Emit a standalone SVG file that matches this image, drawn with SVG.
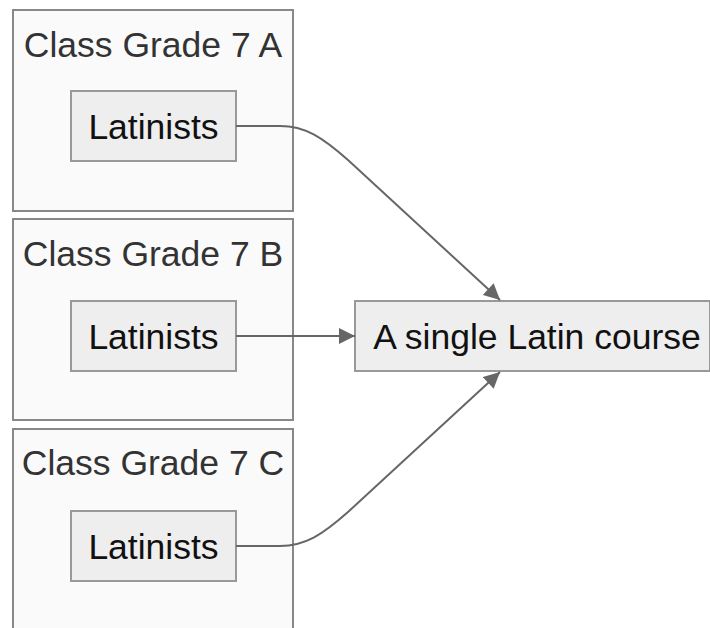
<svg xmlns="http://www.w3.org/2000/svg" width="710" height="628" viewBox="0 0 710 628">
  <style>
    .cluster rect { fill: #fafafa; stroke: #888888; stroke-width: 2; }
    .cluster text { font-family: "Liberation Sans", Arial, sans-serif; font-size: 35.5px; fill: #333333; text-anchor: middle; }
    .node rect { fill: #eeeeee; stroke: #999999; stroke-width: 2; }
    .node text { font-family: "Liberation Sans", Arial, sans-serif; font-size: 35.5px; fill: #111111; text-anchor: middle; }
    .edge { fill: none; stroke: #666666; stroke-width: 2; marker-end: url(#arrow); }
  </style>
  <defs>
    <marker id="arrow" viewBox="0 0 10 10" refX="10" refY="5" markerUnits="userSpaceOnUse" markerWidth="17" markerHeight="16" orient="auto">
      <path d="M0,0 L10,5 L0,10 Z" fill="#666666"/>
    </marker>
  </defs>
  <rect width="710" height="628" fill="#ffffff"/>

  <g id="classA" class="cluster">
    <rect x="13" y="10" width="280" height="201"/>
    <text x="153" y="57">Class Grade 7 A</text>
  </g>
  <g id="classB" class="cluster">
    <rect x="13" y="219" width="280" height="201"/>
    <text x="153" y="266">Class Grade 7 B</text>
  </g>
  <g id="classC" class="cluster">
    <rect x="13" y="429" width="280" height="210"/>
    <text x="153" y="475">Class Grade 7 C</text>
  </g>

  <g id="latinistsA" class="node">
    <rect x="71" y="91" width="165" height="70"/>
    <text x="153.5" y="138.5">Latinists</text>
  </g>
  <g id="latinistsB" class="node">
    <rect x="71" y="301" width="165" height="70"/>
    <text x="153.5" y="348.5">Latinists</text>
  </g>
  <g id="latinistsC" class="node">
    <rect x="71" y="511" width="165" height="70"/>
    <text x="153.5" y="558.5">Latinists</text>
  </g>
  <g id="latinCourse" class="node">
    <rect x="355" y="301" width="355" height="70"/>
    <text x="537" y="348.5">A single Latin course</text>
  </g>

  <g id="connectors">
    <path class="edge" d="M236,126 L280,126 C305,126 322,137 348,160 L500,300"/>
    <path class="edge" d="M236,336 L355,336"/>
    <path class="edge" d="M236,546 L280,546 C305,546 322,535 348,512 L500,372"/>
  </g>
</svg>
